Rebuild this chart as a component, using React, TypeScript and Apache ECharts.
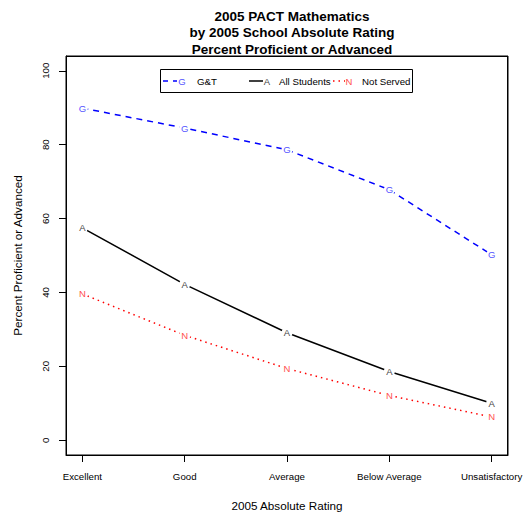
import React, { useEffect, useRef, useState } from "react";
import * as echarts from "echarts";

const categories = ["Excellent", "Good", "Average", "Below Average", "Unsatisfactory"];
const gtValues = [89.9, 84.5, 78.6, 67.8, 50.2];
const allValues = [57.5, 42.2, 29.1, 18.6, 10.0];
const notServedValues = [39.6, 28.4, 19.4, 12.1, 6.3];
const yTicks = [0, 20, 40, 60, 80, 100];
const xPositions = [1, 2, 3, 4, 5];

const FONT = "Liberation Sans, Arial, Helvetica, sans-serif";
const X_MIN = 0.84;
const X_MAX = 5.16;
const Y_MIN = -4;
const Y_MAX = 104;

export default function App() {
  const ref = useRef<HTMLDivElement>(null);
  const [frame, setFrame] = useState<{ l: number; t: number; w: number; h: number } | null>(null);

  useEffect(() => {
    if (!ref.current) return;
    const chart = echarts.init(ref.current, undefined, { renderer: "svg" });

    const mkSeries = (name: string, vals: number[], letter: string, lineColor: string, letterColor: string, type: any, width: number) => ({
      name,
      type: "line",
      clip: false,
      data: vals.map((v, i) => [xPositions[i], v]),
      symbol: "circle",
      symbolSize: 11,
      itemStyle: { color: "#ffffff", borderWidth: 0 },
      lineStyle: { color: lineColor, width, type },
      label: {
        show: true,
        position: "inside",
        formatter: () => letter,
        color: letterColor,
        fontSize: 9.5,
        fontFamily: FONT,
      },
    });

    const legendY = 81;
    const legendText = (x: number, t: string) => ({
      type: "text",
      x,
      y: legendY,
      z: 12,
      style: { text: t, fill: "#000", font: `9.7px ${FONT}`, textVerticalAlign: "middle", textAlign: "left" },
    });
    const legendLetter = (x: number, t: string, color: string) => ({
      type: "text",
      x,
      y: legendY,
      z: 12,
      style: { text: t, fill: color, font: `9.5px ${FONT}`, textVerticalAlign: "middle", textAlign: "center" },
    });

    chart.setOption({
      animation: false,
      backgroundColor: "#ffffff",
      title: {
        text: "2005 PACT Mathematics\nby 2005 School Absolute Rating\nPercent Proficient or Advanced",
        left: 287,
        top: 3,
        textAlign: "center",
        textStyle: { fontSize: 13.5, fontWeight: "bold", fontFamily: FONT, color: "#000", lineHeight: 16.5 },
      },
      grid: { left: 66, right: 16, top: 56, bottom: 64, outerBoundsMode: "none", containLabel: false, show: true, borderColor: "#000000", borderWidth: 1, backgroundColor: "rgba(0,0,0,0)" },
      xAxis: {
        type: "value",
        min: X_MIN,
        max: X_MAX,
        splitLine: { show: false },
        axisLine: { show: true, onZero: false, lineStyle: { color: "#000000", width: 1 } },
        axisTick: { show: true, length: 7, lineStyle: { color: "#000000", width: 1 }, customValues: xPositions },
        axisLabel: {
          customValues: xPositions,
          formatter: (v: number) => categories[Math.round(v) - 1] ?? "",
          color: "#000",
          fontSize: 9.7,
          fontFamily: FONT,
          margin: 16,
        },
        name: "2005 Absolute Rating",
        nameLocation: "middle",
        nameGap: 44,
        nameTextStyle: { fontSize: 11.7, fontFamily: FONT, color: "#000", verticalAlign: "top" },
      },
      yAxis: {
        type: "value",
        min: Y_MIN,
        max: Y_MAX,
        splitLine: { show: false },
        axisLine: { show: true, onZero: false, lineStyle: { color: "#000000", width: 1 } },
        axisTick: { show: true, length: 7, lineStyle: { color: "#000000", width: 1 }, customValues: yTicks },
        axisLabel: {
          customValues: yTicks,
          rotate: 90,
          color: "#000",
          fontSize: 9.7,
          fontFamily: FONT,
          margin: 16,
        },
        name: "Percent Proficient or Advanced",
        nameLocation: "middle",
        nameGap: 43,
        nameTextStyle: { fontSize: 11.7, fontFamily: FONT, color: "#000" },
      },
      series: [
        mkSeries("G&T", gtValues, "G", "#0000ff", "#5555ff", [6, 5], 1.5),
        mkSeries("All Students", allValues, "A", "#000000", "#444444", "solid", 1.5),
        mkSeries("Not Served", notServedValues, "N", "#ff0000", "#ff5050", [1.5, 4], 1.5),
      ],
      graphic: [
        { type: "rect", z: 11, shape: { x: 160.5, y: 69.5, width: 252, height: 23 }, style: { fill: "#fff", stroke: "#000", lineWidth: 1 } },
        { type: "line", z: 12, shape: { x1: 163, y1: legendY, x2: 177, y2: legendY }, style: { stroke: "#0000ff", lineWidth: 1.5, lineDash: [5, 5] } },
        legendLetter(182, "G", "#5555ff"),
        legendText(197, "G&T"),
        { type: "line", z: 12, shape: { x1: 249, y1: legendY, x2: 263, y2: legendY }, style: { stroke: "#000", lineWidth: 1.5 } },
        legendLetter(267, "A", "#444444"),
        legendText(279, "All Students"),
        { type: "line", z: 12, shape: { x1: 333, y1: legendY, x2: 345, y2: legendY }, style: { stroke: "#ff0000", lineWidth: 1.5, lineDash: [1.5, 4] } },
        legendLetter(349, "N", "#ff5050"),
        legendText(362, "Not Served"),
      ],
    });

    // plot frame position taken from the grid's own scales
    const p0 = chart.convertToPixel({ gridIndex: 0 }, [X_MIN, Y_MIN]) as number[];
    const p1 = chart.convertToPixel({ gridIndex: 0 }, [X_MAX, Y_MAX]) as number[];
    const l = Math.round(p0[0]);
    const t = Math.round(p1[1]);
    setFrame({ l, t, w: Math.round(p1[0]) - l, h: Math.round(p0[1]) - t + 1 });

    return () => chart.dispose();
  }, []);

  return (
    <div style={{ position: "fixed", left: 0, top: 0, width: 524, height: 519, background: "#fff" }}>
      <div ref={ref} style={{ position: "absolute", left: 0, top: 0, width: 524, height: 519 }} />
      {frame && (
        <div
          style={{
            position: "absolute",
            left: frame.l,
            top: frame.t,
            width: frame.w,
            height: frame.h,
            border: "1px solid #000",
            boxSizing: "border-box",
            pointerEvents: "none",
          }}
        />
      )}
    </div>
  );
}
